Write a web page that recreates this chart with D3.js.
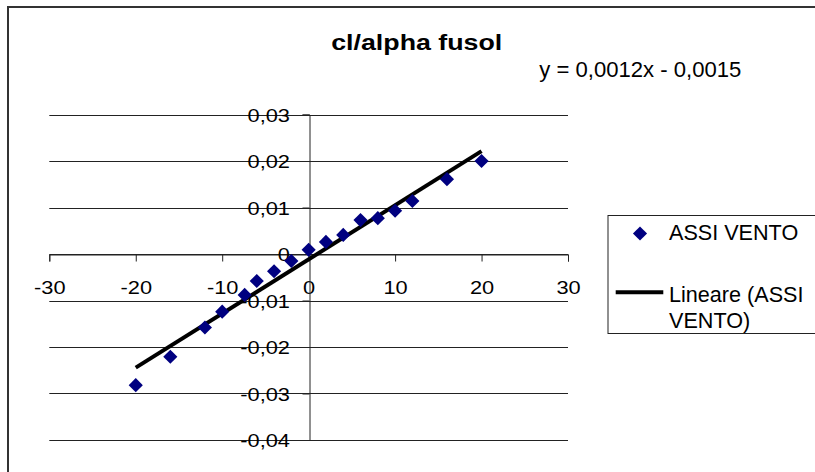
<!DOCTYPE html>
<meta charset="utf-8">
<html>
  <head>
    <style>
      body { margin: 0; background: #fff; }
      text { font-family: Arial, "Liberation Sans", sans-serif; fill: #000; }
    </style>
    <script src="https://d3js.org/d3.v7.min.js"></script>
  </head>
  <body>
<!-- Create a div where the graph will take place -->
<div id="my_dataviz"></div>

<script>

// data
var angles = [-20, -16, -12, -10, -7.4, -6, -4, -2, 0, 2, 4, 6, 8, 10, 12, 16, 20]
var clValues = [-0.0282, -0.0221, -0.0158, -0.0124, -0.0088, -0.0058, -0.0037, -0.0015, 0.0009,
                0.0026, 0.0041, 0.0073, 0.0077, 0.0093, 0.0114, 0.0161, 0.0200]
var xTicks = [-30, -20, -10, 0, 10, 20, 30]
var yTicks = [-0.04, -0.03, -0.02, -0.01, 0, 0.01, 0.02, 0.03]
var chartTitle = "cl/alpha fusol"
var equationLabel = "y = 0,0012x - 0,0015"
var seriesName = "ASSI VENTO"
var trendName = ["Lineare (ASSI", "VENTO)"]

var width = 815,
  height = 472

var svg = d3.select("#my_dataviz")
  .append("svg")
  .attr("width", width)
  .attr("height", height)

// outer chart border (runs off the right / bottom edge)
svg.append("rect")
  .attr("x", 8)
  .attr("y", 7)
  .attr("width", 900)
  .attr("height", 600)
  .attr("fill", "none")
  .attr("stroke", "#333")
  .attr("stroke-width", 2)

// scales
var x = d3.scaleLinear().domain([-30, 30]).range([49.3, 568])
var y = d3.scaleLinear().domain([-0.04, 0.03]).range([440, 114.5])

// italian number format
var it = d3.formatLocale({decimal: ",", thousands: ".", grouping: [3], currency: ["€", ""], minus: "-"})
var fmtY = function(d) { return Math.abs(d) < 1e-9 ? "0" : it.format(".2f")(d) }
var fmtX = it.format("d")

// horizontal gridlines
svg.append("g")
  .selectAll("line")
  .data(yTicks)
  .enter()
  .append("line")
    .attr("x1", x(-30))
    .attr("x2", x(30))
    .attr("y1", function(d) { return Math.round(y(d)) + 0.5 })
    .attr("y2", function(d) { return Math.round(y(d)) + 0.5 })
    .attr("stroke", "#222")
    .attr("stroke-width", 1)

// X axis through y = 0
var gx = svg.append("g")
  .attr("transform", "translate(0," + (Math.round(y(0)) + 0.5) + ")")
  .call(d3.axisBottom(x).tickValues(xTicks).tickSize(7).tickFormat(fmtX))
gx.select(".domain").attr("stroke", "#222")
gx.selectAll(".tick line").attr("stroke", "#222")
gx.selectAll("text")
  .attr("y", null)
  .attr("dy", null)
  .attr("fill", "#000")
  .style("font-size", "18.8px")
  .attr("transform", "translate(0,39) scale(1.16,1)")

// Y axis through x = 0
var gy = svg.append("g")
  .attr("transform", "translate(" + (Math.round(x(0)) + 0.5) + ",0)")
  .call(d3.axisLeft(y).tickValues(yTicks).tickSize(7).tickFormat(fmtY))
gy.select(".domain").attr("stroke", "#222")
gy.selectAll(".tick line").attr("stroke", "#222")
gy.selectAll("text")
  .attr("x", null)
  .attr("dy", null)
  .attr("fill", "#000")
  .style("font-size", "18.8px")
  .attr("text-anchor", "end")
  .attr("transform", "translate(-19.5,6.6) scale(1.16,1)")

// linear trendline (least squares fit of the series)
var mx = d3.mean(angles), my = d3.mean(clValues)
var sxy = d3.sum(angles, function(a, i) { return (a - mx) * (clValues[i] - my) })
var sxx = d3.sum(angles, function(a) { return (a - mx) * (a - mx) })
var slope = sxy / sxx, icpt = my - slope * mx
var xEnds = d3.extent(angles)

svg.append("line")
  .attr("x1", x(xEnds[0]))
  .attr("y1", y(slope * xEnds[0] + icpt))
  .attr("x2", x(xEnds[1]))
  .attr("y2", y(slope * xEnds[1] + icpt))
  .attr("stroke", "#000")
  .attr("stroke-width", 4)

// diamonds
var diamond = d3.symbol().type(d3.symbolSquare).size(100)
svg.append("g")
  .selectAll("path")
  .data(angles)
  .enter()
  .append("path")
    .attr("d", diamond)
    .attr("transform", function(d, i) { return "translate(" + x(d) + "," + y(clValues[i]) + ") rotate(45)" })
    .attr("fill", "#000080")

// title and equation
svg.append("text")
  .attr("transform", "translate(416.7,50) scale(1.2,1)")
  .attr("text-anchor", "middle")
  .style("font-size", "22.3px")
  .style("font-weight", "bold")
  .text(chartTitle)

svg.append("text")
  .attr("x", 539.3)
  .attr("y", 76.7)
  .style("font-size", "22.1px")
  .text(equationLabel)

// legend
var legend = svg.append("g")
legend.append("rect")
  .attr("x", 608)
  .attr("y", 215.5)
  .attr("width", 300)
  .attr("height", 118)
  .attr("fill", "#fff")
  .attr("stroke", "#222")
  .attr("stroke-width", 1)
legend.append("path")
  .attr("d", diamond)
  .attr("transform", "translate(640,233.5) rotate(45)")
  .attr("fill", "#000080")
legend.append("text")
  .attr("x", 669)
  .attr("y", 240)
  .style("font-size", "21.6px")
  .text(seriesName)
legend.append("line")
  .attr("x1", 615.7)
  .attr("x2", 663.3)
  .attr("y1", 292.3)
  .attr("y2", 292.3)
  .attr("stroke", "#000")
  .attr("stroke-width", 4)
legend.selectAll("text.trend")
  .data(trendName)
  .enter()
  .append("text")
    .attr("class", "trend")
    .attr("x", 669)
    .attr("y", function(d, i) { return 302 + i * 26.3 })
    .style("font-size", "21.6px")
    .text(function(d) { return d })

</script>
</body>
</html>
